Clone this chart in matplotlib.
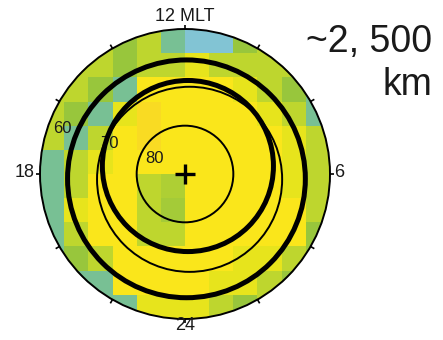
import numpy as np
import matplotlib.pyplot as plt
from matplotlib.colors import LinearSegmentedColormap
from matplotlib.patches import Circle

plt.rcParams["font.family"] = ["Liberation Sans", "DejaVu Sans"]

# ---------------------------------------------------------------------------
# Data (colatitude degrees; x toward dawn, y toward noon)
# ---------------------------------------------------------------------------
cell_edges = np.arange(-30, 31, 5)

# relative value per cell: first row = noon side, first column = dusk side
nan = np.nan
cell_values = [
    [nan, nan, 0.62, 0.45, 0.62, 0.22, 0.00, 0.00, 0.45, 0.62, nan, nan],
    [nan, 0.62, 0.62, 0.45, 0.62, 0.62, 0.75, 0.62, 0.62, 0.62, 0.62, nan],
    [0.62, 0.62, 0.45, 0.22, 0.85, 0.85, 0.85, 0.85, 0.75, 0.62, 0.45, 0.22],
    [0.62, 0.45, 0.22, 0.75, 0.95, 0.85, 0.85, 0.85, 0.85, 0.75, 0.62, 0.22],
    [0.62, 0.22, 0.62, 0.85, 0.95, 0.85, 0.85, 0.85, 0.85, 0.85, 0.75, 0.62],
    [0.22, 0.62, 0.75, 0.85, 0.85, 0.85, 0.85, 0.85, 0.85, 0.85, 0.75, 0.62],
    [0.22, 0.62, 0.85, 0.85, 0.62, 0.55, 0.85, 0.85, 0.85, 0.85, 0.75, 0.62],
    [0.22, 0.75, 0.85, 0.85, 0.62, 0.50, 0.85, 0.85, 0.85, 0.85, 0.85, 0.62],
    [0.22, 0.62, 0.85, 0.85, 0.62, 0.62, 0.85, 0.85, 0.85, 0.85, 0.85, 0.45],
    [0.22, 0.45, 0.62, 0.85, 0.85, 0.85, 0.85, 0.85, 0.75, 0.75, 0.62, 0.45],
    [nan, 0.22, 0.22, 0.85, 0.85, 0.85, 0.85, 0.75, 0.75, 0.62, 0.45, nan],
    [nan, nan, 0.22, 0.22, 0.75, 0.75, 0.75, 0.62, 0.45, 0.62, nan, nan],
]

boundary_colat = 30
lat_circle_colat = 10

# oval boundaries: centre (x, y) and radius in colatitude degrees
oval_x = [0.3, 0.6, 0.95]
oval_y = [-1.0, 1.65, -1.1]
oval_r = [24.6, 17.7, 19.15]
oval_lw = [3.6, 3.6, 1.4]

tick_mlt = np.arange(0, 24, 2)
mlt_labels = {"12 MLT": (0, 32.6), "18": (-31.1, 0.3), "6": (30.9, 0.3), "24": (0, -31.3)}
lat_labels = {"60": (-25.4, 9.4), "70": (-15.6, 6.3), "80": (-6.4, 3.3)}

# ---------------------------------------------------------------------------
# Plot
# ---------------------------------------------------------------------------
cmap = LinearSegmentedColormap.from_list(
    "oval",
    [(0.00, "#82c4d4"), (0.22, "#78c094"), (0.45, "#98c63c"),
     (0.62, "#bed62e"), (0.75, "#e6e41c"), (0.85, "#fae61b"), (1.00, "#f9d626")],
)

fig = plt.figure(figsize=(4.43, 3.40), dpi=100)
ax = fig.add_axes([0, 0, 1, 1])
px = 4.833  # pixels per degree
ax.set_xlim(-185 / px, (443 - 185) / px)
ax.set_ylim(-166 / px, 174 / px)
ax.axis("off")

disc = Circle((0, 0), boundary_colat, transform=ax.transData, fill=False, lw=0)
ax.add_patch(disc)
mesh = ax.pcolormesh(cell_edges, cell_edges[::-1], np.array(cell_values),
                     cmap=cmap, vmin=0, vmax=1, zorder=1)
mesh.set_clip_path(disc)

ax.add_patch(Circle((0, 0), boundary_colat, fill=False, lw=1.4, color="black", zorder=4))
ax.add_patch(Circle((0, 0), lat_circle_colat, fill=False, lw=1.4, color="black", zorder=4))

for cx, cy, r, lw in zip(oval_x, oval_y, oval_r, oval_lw):
    ax.add_patch(Circle((cx, cy), r, fill=False, lw=lw, color="black", zorder=5))

theta = np.deg2rad((tick_mlt - 6) * 15)
for t in theta:
    ax.plot([30 * np.cos(t), 30.9 * np.cos(t)], [30 * np.sin(t), 30.9 * np.sin(t)],
            color="black", lw=1.2, zorder=4, solid_capstyle="butt")

ax.plot(0, 0, marker="+", markersize=14, mew=2.4, color="black", zorder=6)

ha = {"12 MLT": "center", "18": "right", "6": "left", "24": "center"}
for txt, (x, y) in mlt_labels.items():
    ax.text(x, y, txt, ha=ha[txt], va="center", fontsize=13, color="#1a1a1a", zorder=6)
for txt, (x, y) in lat_labels.items():
    ax.text(x, y, txt, ha="center", va="center", fontsize=12, color="#1a1a1a", zorder=3)

ax.text(51.2, 27.3, "~2, 500", ha="right", va="center", fontsize=27, color="#1a1a1a")
ax.text(51.2, 18.4, "km", ha="right", va="center", fontsize=27, color="#1a1a1a")

fig.savefig("out.png", dpi=100)
